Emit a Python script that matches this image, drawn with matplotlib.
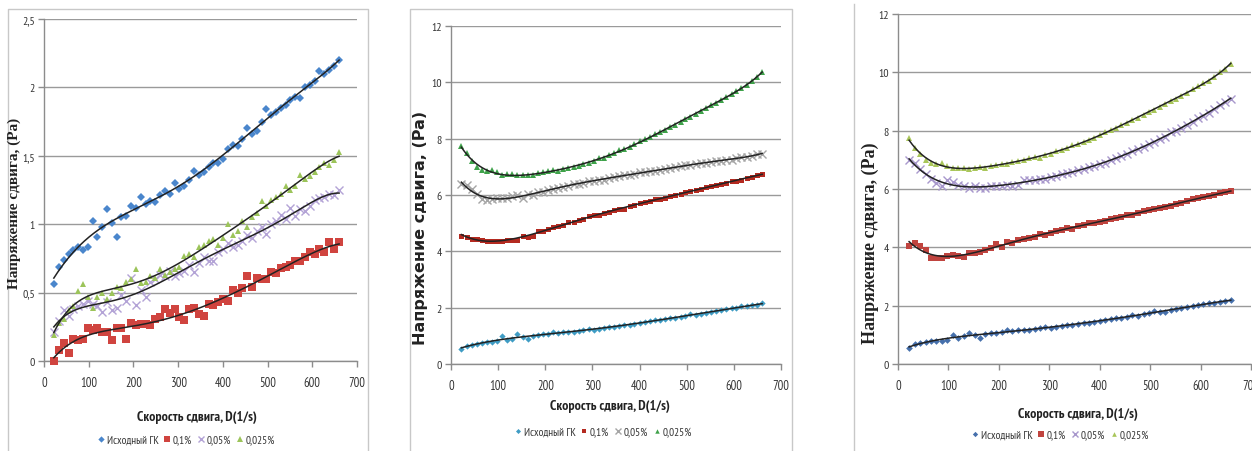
import numpy as np
import matplotlib
matplotlib.use("Agg")
import matplotlib.pyplot as plt
from matplotlib.ticker import FuncFormatter, MultipleLocator
from matplotlib.lines import Line2D
from numpy.polynomial import Polynomial

NARROW = ['PT Sans Narrow', 'Roboto Condensed', 'IBM Plex Sans Condensed',
          'Liberation Sans', 'DejaVu Sans']
plt.rcParams['font.family'] = NARROW

# Shear rate, 1/s
shear_rate = [22, 33, 44, 55, 65, 76, 87, 98, 109, 119, 130, 141, 152, 163, 173,
              184, 195, 206, 217, 227, 238, 249, 260, 271, 281, 292, 303, 314, 325, 335,
              346, 357, 368, 379, 389, 400, 411, 422, 433, 443, 454, 465, 476, 487, 497,
              508, 519, 530, 541, 551, 562, 573, 584, 595, 605, 616, 627, 638, 649, 660]

series_names = ["Исходный ГК", "0,1%", "0,05%", "0,025%"]

# ---- Panel 1: shear stress, Pa ----
p1_base = [0.56, 0.69, 0.74, 0.78, 0.81, 0.83, 0.81, 0.83, 1.02, 0.91, 0.98, 1.11, 1.01, 0.91, 1.05,
           1.06, 1.13, 1.12, 1.20, 1.15, 1.17, 1.16, 1.21, 1.24, 1.22, 1.30, 1.26, 1.28, 1.32, 1.39,
           1.36, 1.38, 1.42, 1.45, 1.45, 1.48, 1.55, 1.58, 1.57, 1.62, 1.70, 1.66, 1.68, 1.75, 1.84,
           1.80, 1.82, 1.85, 1.87, 1.91, 1.93, 1.92, 2.00, 2.02, 2.05, 2.12, 2.10, 2.13, 2.16, 2.20]
p1_c01 = [0.00, 0.08, 0.13, 0.06, 0.16, 0.15, 0.16, 0.24, 0.23, 0.24, 0.21, 0.21, 0.15, 0.24, 0.24,
          0.16, 0.28, 0.26, 0.27, 0.27, 0.26, 0.31, 0.32, 0.38, 0.35, 0.38, 0.32, 0.30, 0.38, 0.39,
          0.34, 0.33, 0.42, 0.41, 0.43, 0.45, 0.44, 0.52, 0.50, 0.53, 0.62, 0.54, 0.61, 0.60, 0.60,
          0.65, 0.64, 0.68, 0.69, 0.70, 0.73, 0.73, 0.76, 0.80, 0.78, 0.82, 0.80, 0.87, 0.82, 0.87]
p1_c005 = [0.21, 0.29, 0.37, 0.33, 0.38, 0.40, 0.42, 0.44, 0.42, 0.40, 0.36, 0.43, 0.37, 0.39, 0.48,
           0.44, 0.61, 0.41, 0.52, 0.47, 0.58, 0.60, 0.63, 0.62, 0.66, 0.62, 0.64, 0.66, 0.70, 0.65,
           0.72, 0.76, 0.73, 0.73, 0.80, 0.82, 0.86, 0.83, 0.85, 0.88, 0.92, 0.90, 0.95, 0.98, 0.93,
           1.00, 1.02, 1.07, 1.04, 1.12, 1.06, 1.11, 1.10, 1.13, 1.18, 1.19, 1.20, 1.22, 1.21, 1.25]
p1_c0025 = [0.19, 0.28, 0.31, 0.37, 0.40, 0.51, 0.56, 0.47, 0.39, 0.47, 0.50, 0.45, 0.50, 0.54, 0.53,
            0.58, 0.60, 0.67, 0.57, 0.58, 0.62, 0.61, 0.67, 0.63, 0.65, 0.67, 0.69, 0.77, 0.78, 0.76,
            0.83, 0.85, 0.88, 0.89, 0.85, 0.90, 1.00, 0.92, 0.95, 1.02, 0.98, 1.05, 1.08, 1.17, 1.13,
            1.18, 1.20, 1.22, 1.28, 1.25, 1.28, 1.36, 1.33, 1.35, 1.38, 1.42, 1.45, 1.43, 1.47, 1.53]

# ---- Panel 2 ----
p2_base = [0.55, 0.65, 0.68, 0.72, 0.75, 0.78, 0.78, 0.80, 0.98, 0.85, 0.90, 1.05, 0.95, 0.88, 1.00,
           1.02, 1.05, 1.08, 1.15, 1.10, 1.12, 1.12, 1.15, 1.18, 1.20, 1.25, 1.22, 1.25, 1.28, 1.32,
           1.33, 1.35, 1.38, 1.40, 1.42, 1.45, 1.50, 1.52, 1.55, 1.55, 1.60, 1.65, 1.62, 1.68, 1.72,
           1.78, 1.75, 1.78, 1.82, 1.85, 1.88, 1.90, 1.95, 1.98, 2.00, 2.05, 2.05, 2.08, 2.10, 2.15]
p2_c01 = [4.55, 4.52, 4.45, 4.45, 4.42, 4.38, 4.38, 4.35, 4.35, 4.40, 4.42, 4.42, 4.55, 4.50, 4.55,
          4.72, 4.72, 4.78, 4.85, 4.90, 4.95, 5.05, 5.05, 5.10, 5.15, 5.25, 5.30, 5.28, 5.35, 5.40,
          5.45, 5.50, 5.52, 5.60, 5.65, 5.70, 5.75, 5.78, 5.85, 5.85, 5.88, 5.95, 6.00, 6.05, 6.10,
          6.15, 6.18, 6.22, 6.28, 6.32, 6.35, 6.40, 6.42, 6.48, 6.50, 6.55, 6.60, 6.65, 6.70, 6.75]
p2_c005 = [6.40, 6.35, 6.20, 6.05, 5.85, 5.82, 5.85, 5.88, 5.90, 5.88, 5.95, 6.00, 5.90, 6.05, 6.00,
           6.10, 6.12, 6.18, 6.20, 6.25, 6.30, 6.32, 6.38, 6.40, 6.42, 6.48, 6.50, 6.55, 6.55, 6.60,
           6.65, 6.68, 6.70, 6.72, 6.75, 6.80, 6.82, 6.85, 6.85, 6.90, 6.92, 6.95, 7.00, 7.02, 7.05,
           7.05, 7.10, 7.12, 7.15, 7.18, 7.20, 7.22, 7.25, 7.25, 7.30, 7.35, 7.35, 7.40, 7.45, 7.45]
p2_c0025 = [7.75, 7.50, 7.20, 7.00, 6.90, 6.85, 6.90, 6.80, 6.70, 6.75, 6.75, 6.70, 6.70, 6.72, 6.70,
            6.78, 6.80, 6.85, 6.88, 6.85, 6.92, 6.95, 7.00, 7.02, 7.10, 7.15, 7.20, 7.30, 7.32, 7.42,
            7.50, 7.58, 7.65, 7.72, 7.80, 7.90, 7.98, 8.05, 8.15, 8.25, 8.30, 8.42, 8.50, 8.60, 8.70,
            8.78, 8.88, 8.98, 9.08, 9.18, 9.28, 9.38, 9.48, 9.58, 9.70, 9.80, 9.92, 10.05, 10.18, 10.35]

# ---- Panel 3 ----
p3_base = [0.55, 0.68, 0.72, 0.76, 0.80, 0.80, 0.80, 0.82, 1.00, 0.90, 0.95, 1.08, 0.98, 0.90, 1.02,
           1.05, 1.08, 1.10, 1.15, 1.12, 1.15, 1.15, 1.18, 1.20, 1.22, 1.26, 1.25, 1.28, 1.30, 1.35,
           1.35, 1.38, 1.40, 1.42, 1.45, 1.48, 1.52, 1.55, 1.57, 1.58, 1.62, 1.68, 1.65, 1.70, 1.75,
           1.82, 1.78, 1.80, 1.85, 1.88, 1.92, 1.95, 2.00, 2.02, 2.05, 2.10, 2.10, 2.12, 2.15, 2.20]
p3_c01 = [4.05, 4.15, 4.05, 3.90, 3.65, 3.65, 3.62, 3.70, 3.75, 3.70, 3.68, 3.82, 3.80, 3.85, 3.92,
          3.98, 4.10, 4.00, 4.20, 4.15, 4.25, 4.30, 4.32, 4.35, 4.45, 4.42, 4.50, 4.55, 4.60, 4.65,
          4.62, 4.72, 4.78, 4.82, 4.85, 4.88, 4.92, 4.98, 5.02, 5.05, 5.10, 5.12, 5.18, 5.25, 5.28,
          5.30, 5.35, 5.40, 5.42, 5.48, 5.52, 5.60, 5.65, 5.68, 5.72, 5.75, 5.80, 5.85, 5.90, 5.92]
p3_c005 = [7.00, 6.90, 6.70, 6.50, 6.35, 6.20, 6.10, 6.30, 6.25, 6.15, 6.10, 6.05, 6.10, 6.05, 6.05,
           6.10, 6.12, 6.10, 6.15, 6.10, 6.15, 6.30, 6.30, 6.30, 6.35, 6.35, 6.40, 6.45, 6.50, 6.55,
           6.60, 6.65, 6.70, 6.75, 6.78, 6.85, 6.90, 7.00, 7.05, 7.12, 7.20, 7.30, 7.38, 7.45, 7.55,
           7.60, 7.72, 7.80, 7.95, 8.00, 8.10, 8.20, 8.30, 8.42, 8.52, 8.62, 8.75, 8.88, 9.00, 9.10]
p3_c0025 = [7.75, 7.40, 7.20, 7.00, 6.90, 6.85, 6.90, 6.80, 6.72, 6.72, 6.72, 6.70, 6.72, 6.75, 6.72,
            6.80, 6.82, 6.85, 6.85, 6.92, 6.95, 7.00, 7.05, 7.10, 7.05, 7.15, 7.20, 7.30, 7.35, 7.42,
            7.50, 7.55, 7.62, 7.68, 7.75, 7.85, 7.95, 8.02, 8.10, 8.20, 8.28, 8.38, 8.45, 8.55, 8.65,
            8.72, 8.82, 8.92, 9.02, 9.10, 9.20, 9.30, 9.42, 9.52, 9.62, 9.72, 9.85, 10.00, 10.12, 10.30]

W, H = 1252, 452
fig = plt.figure(figsize=(W / 100, H / 100), dpi=100)
fig.patch.set_facecolor("white")

markers = ["D", "s", "x", "^"]
SERIF = ["Liberation Serif", "DejaVu Serif"]

panels = [
    dict(data=[p1_base, p1_c01, p1_c005, p1_c0025],
         colors=["#4a86cc", "#d0443f", "#b3a3d6", "#9cc45a"],
         sizes=[4.0, 5.2, 6.0, 4.8],
         rect=(44, 20, 357, 362), ylim=2.5, ystep=0.5,
         ylabel_font=dict(family=SERIF, size=11, weight="bold"),
         ylabel_pos=(14, 203), xlabel_pos=(197, 417), legend_pos=(186, 441)),
    dict(data=[p2_base, p2_c01, p2_c005, p2_c0025],
         colors=["#3f9cc4", "#b42a20", "#a5a5a5", "#3fa24a"],
         sizes=[3.2, 3.6, 5.5, 4.0],
         rect=(451, 27, 781, 365), ylim=12, ystep=2,
         ylabel_font=dict(family=["DejaVu Sans"], size=11.5, weight="bold"),
         ylabel_pos=(421, 228), xlabel_pos=(610, 407), legend_pos=(603, 433)),
    dict(data=[p3_base, p3_c01, p3_c005, p3_c0025],
         colors=["#4670ac", "#c0443f", "#a898cc", "#a9c65a"],
         sizes=[3.4, 4.6, 6.0, 4.2],
         rect=(898, 15, 1251, 365), ylim=12, ystep=2,
         ylabel_font=dict(family=SERIF, size=13, weight="bold"),
         ylabel_pos=(870, 243), xlabel_pos=(1078, 415), legend_pos=(1060, 436)),
]


def comma_fmt(v, _):
    s = f"{v:g}"
    return s.replace(".", ",")


for p in panels:
    x0, y0, x1, y1 = p["rect"]
    ax = fig.add_axes([x0 / W, 1 - y1 / H, (x1 - x0) / W, (y1 - y0) / H])
    ax.set_xlim(0, 700)
    ax.set_ylim(0, p["ylim"])
    ax.xaxis.set_major_locator(MultipleLocator(100))
    ax.yaxis.set_major_locator(MultipleLocator(p["ystep"]))
    ax.yaxis.set_major_formatter(FuncFormatter(comma_fmt))
    ax.grid(axis="y", color="#9a9a9a", linewidth=1.0)
    ax.set_axisbelow(True)
    for side in ("top", "right"):
        ax.spines[side].set_visible(False)
    for side in ("left", "bottom"):
        ax.spines[side].set_color("#8c8c8c")
        ax.spines[side].set_linewidth(1.0)
    ax.tick_params(colors="#8c8c8c", length=4, width=1.0, labelsize=9,
                   labelcolor="#333333", direction="out")
    ax.tick_params(axis="x", pad=7)
    ax.tick_params(axis="y", pad=2.5, labelsize=8.5)

    xs = np.array(shear_rate, dtype=float)
    handles = []
    for ys, col, mk, ms in zip(p["data"], p["colors"], markers, p["sizes"]):
        ys = np.array(ys, dtype=float)
        kw = dict(linestyle="none", marker=mk, markersize=ms, color=col, clip_on=False)
        kw["markeredgewidth"] = 1.0 if mk == "x" else 0
        h, = ax.plot(xs, ys, zorder=3, **kw)
        handles.append(h)
    # polynomial trend lines
    for ys in p["data"]:
        fit = Polynomial.fit(xs, np.array(ys, dtype=float), 6)
        xf = np.linspace(xs.min(), xs.max(), 300)
        ax.plot(xf, fit(xf), color="#222222", linewidth=1.1, zorder=4)

    lx, ly = p["ylabel_pos"]
    fig.text(lx / W, 1 - ly / H, "Напряжение сдвига, (Pa)", rotation=90,
             ha="center", va="center", color="#222222",
             family=p["ylabel_font"]["family"],
             fontsize=p["ylabel_font"]["size"],
             fontweight=p["ylabel_font"]["weight"])
    xx, xy = p["xlabel_pos"]
    fig.text(xx / W, 1 - xy / H, "Скорость сдвига, D(1/s)", ha="center", va="center",
             fontsize=10, fontweight="bold", color="#222222")
    gx, gy = p["legend_pos"]
    fig.legend(handles, series_names, loc="center", ncol=4,
               bbox_to_anchor=(gx / W, 1 - gy / H), frameon=False,
               fontsize=8, handlelength=0.7, handletextpad=0.15, columnspacing=0.45,
               markerscale=0.8, labelcolor="#333333")

# panel frames
frame = dict(color="#c8c8c8", linewidth=1.0)
fig.add_artist(Line2D([8 / W, 8 / W, 368 / W, 368 / W], [0, 1 - 10 / H, 1 - 10 / H, 0],
                      transform=fig.transFigure, **frame))
fig.add_artist(Line2D([410 / W, 410 / W, 792 / W, 792 / W], [0, 1 - 10 / H, 1 - 10 / H, 0],
                      transform=fig.transFigure, **frame))
fig.add_artist(Line2D([854 / W, 854 / W], [0, 1 - 5 / H],
                      transform=fig.transFigure, **frame))

fig.savefig("out.png", dpi=100, facecolor="white")
